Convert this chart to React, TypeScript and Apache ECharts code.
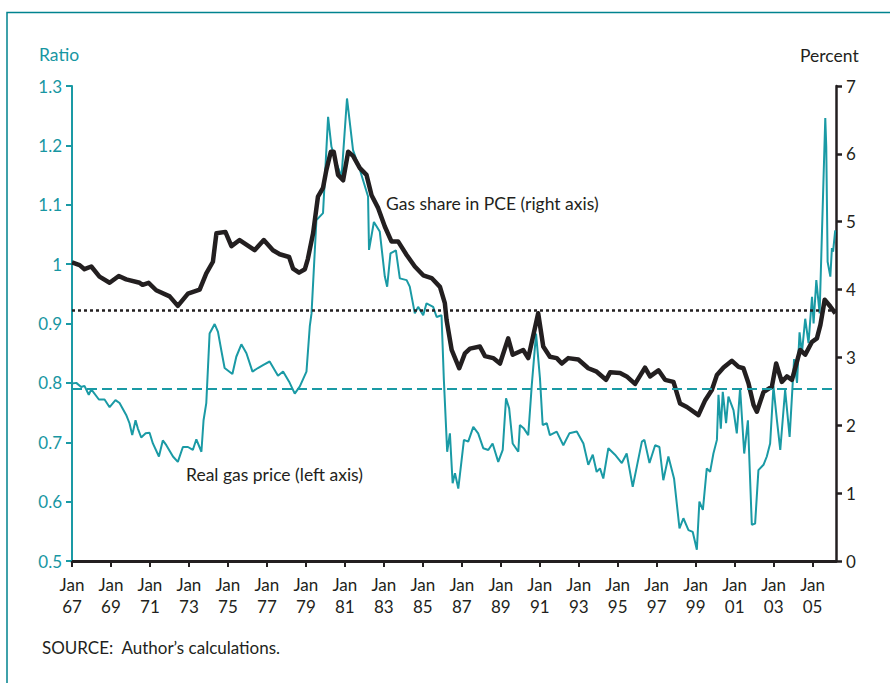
import React, { useEffect, useRef } from "react";
import * as echarts from "echarts";

// Gas share in PCE (right axis, percent)
const shareYears = [
  1967.0, 1967.39, 1967.64, 1967.99, 1968.41, 1968.93, 1969.4, 1969.78, 1970.47, 1970.62,
  1970.93, 1971.32, 1972.01, 1972.43, 1972.95, 1973.55, 1973.89, 1974.23, 1974.41, 1974.87,
  1975.18, 1975.6, 1976.37, 1976.84, 1977.31, 1977.66, 1978.14, 1978.34, 1978.65, 1978.95,
  1979.1, 1979.37, 1979.62, 1979.88, 1980.05, 1980.28, 1980.43, 1980.65, 1980.91, 1981.17,
  1981.42, 1981.77, 1982.11, 1982.37, 1982.71, 1983.05, 1983.39, 1983.73, 1984.17, 1984.59,
  1985.02, 1985.45, 1985.88, 1986.13, 1986.22, 1986.48, 1986.87, 1987.16, 1987.42, 1987.93,
  1988.19, 1988.61, 1988.96, 1989.38, 1989.61, 1990.15, 1990.41, 1990.92, 1991.18, 1991.52,
  1991.87, 1992.13, 1992.46, 1992.98, 1993.49, 1993.92, 1994.4, 1994.61, 1995.12, 1995.46,
  1995.89, 1996.4, 1996.66, 1997.09, 1997.43, 1997.86, 1998.2, 1998.55, 1999.14, 1999.49,
  1999.83, 2000.09, 2000.43, 2000.86, 2001.2, 2001.45, 2001.71, 2001.97, 2002.14, 2002.48,
  2002.91, 2003.13, 2003.42, 2003.68, 2003.94, 2004.36, 2004.62, 2004.97, 2005.22, 2005.4,
  2005.62, 2005.91, 2006.17,
];
const shareValues = [
  4.4, 4.36, 4.3, 4.34, 4.19, 4.1, 4.2, 4.15, 4.1, 4.07,
  4.1, 3.99, 3.9, 3.76, 3.94, 4.0, 4.24, 4.41, 4.83, 4.85,
  4.64, 4.73, 4.58, 4.73, 4.58, 4.52, 4.48, 4.31, 4.25, 4.3,
  4.45, 4.83, 5.37, 5.5, 5.76, 6.03, 6.03, 5.69, 5.61, 6.03,
  5.97, 5.79, 5.69, 5.39, 5.2, 4.93, 4.71, 4.71, 4.51, 4.34,
  4.21, 4.17, 4.04, 3.8, 3.55, 3.11, 2.84, 3.06, 3.13, 3.16,
  3.02, 2.99, 2.91, 3.28, 3.04, 3.11, 2.99, 3.65, 3.16, 3.01,
  2.99, 2.91, 2.99, 2.97, 2.84, 2.79, 2.67, 2.78, 2.77, 2.72,
  2.61, 2.85, 2.72, 2.81, 2.67, 2.64, 2.32, 2.27, 2.15, 2.37,
  2.52, 2.74, 2.85, 2.95, 2.86, 2.84, 2.62, 2.3, 2.2, 2.49,
  2.57, 2.91, 2.64, 2.72, 2.67, 3.11, 3.04, 3.23, 3.28, 3.48,
  3.85, 3.75, 3.65,
];

// Real gas price (left axis, ratio)
const priceYears = [
  1967.0, 1967.22, 1967.47, 1967.64, 1967.86, 1967.99, 1968.38, 1968.67, 1968.93, 1969.23,
  1969.44, 1969.78, 1969.95, 1970.09, 1970.26, 1970.38, 1970.55, 1970.78, 1970.98, 1971.15,
  1971.46, 1971.66, 1971.84, 1972.18, 1972.43, 1972.69, 1972.95, 1973.2, 1973.38, 1973.64,
  1973.75, 1973.89, 1974.06, 1974.32, 1974.49, 1974.66, 1974.83, 1975.23, 1975.43, 1975.69,
  1975.95, 1976.26, 1976.54, 1976.8, 1977.14, 1977.57, 1977.83, 1978.14, 1978.43, 1978.69,
  1979.03, 1979.2, 1979.29, 1979.54, 1979.88, 1980.14, 1980.31, 1980.57, 1980.83, 1981.11,
  1981.42, 1981.77, 1982.19, 1982.24, 1982.49, 1982.79, 1983.05, 1983.17, 1983.34, 1983.62,
  1983.82, 1984.17, 1984.33, 1984.59, 1984.76, 1985.02, 1985.19, 1985.53, 1985.71, 1985.96,
  1986.08, 1986.25, 1986.39, 1986.53, 1986.65, 1986.82, 1986.99, 1987.11, 1987.33, 1987.59,
  1987.84, 1988.1, 1988.36, 1988.58, 1988.87, 1989.1, 1989.27, 1989.43, 1989.61, 1989.9,
  1989.98, 1990.19, 1990.41, 1990.59, 1990.81, 1991.01, 1991.15, 1991.36, 1991.52, 1991.87,
  1992.21, 1992.52, 1992.9, 1993.24, 1993.49, 1993.72, 1993.92, 1994.09, 1994.26, 1994.52,
  1994.86, 1995.21, 1995.46, 1995.77, 1995.98, 1996.24, 1996.37, 1996.63, 1996.92, 1997.14,
  1997.34, 1997.6, 1997.89, 1998.17, 1998.37, 1998.63, 1998.85, 1999.06, 1999.19, 1999.37,
  1999.57, 1999.74, 1999.91, 2000.09, 2000.17, 2000.29, 2000.39, 2000.56, 2000.68, 2000.94,
  2001.11, 2001.28, 2001.49, 2001.68, 2001.88, 2002.05, 2002.22, 2002.48, 2002.65, 2002.82,
  2002.99, 2003.17, 2003.34, 2003.59, 2003.82, 2004.05, 2004.2, 2004.33, 2004.45, 2004.62,
  2004.79, 2004.97, 2005.05, 2005.19, 2005.36, 2005.65, 2005.7, 2005.77, 2005.91, 2005.99,
  2006.05, 2006.16,
];
const priceValues = [
  0.799, 0.8, 0.793, 0.795, 0.78, 0.789, 0.772, 0.772, 0.759, 0.771,
  0.766, 0.746, 0.732, 0.712, 0.737, 0.723, 0.708, 0.715, 0.716, 0.698,
  0.676, 0.703, 0.695, 0.676, 0.667, 0.692, 0.692, 0.687, 0.705, 0.684,
  0.737, 0.766, 0.883, 0.899, 0.886, 0.855, 0.825, 0.815, 0.844, 0.865,
  0.85, 0.819, 0.825, 0.83, 0.836, 0.812, 0.819, 0.802, 0.782, 0.794,
  0.819, 0.895, 0.917, 1.074, 1.086, 1.248, 1.198, 1.17, 1.147, 1.279,
  1.192, 1.159, 1.114, 1.024, 1.071, 1.055, 0.979, 0.962, 1.018, 1.023,
  0.976, 0.973, 0.962, 0.917, 0.928, 0.914, 0.934, 0.928, 0.911, 0.914,
  0.805, 0.684, 0.715, 0.631, 0.648, 0.622, 0.67, 0.704, 0.701, 0.726,
  0.715, 0.69, 0.687, 0.698, 0.667, 0.687, 0.774, 0.757, 0.698, 0.684,
  0.729, 0.723, 0.712, 0.796, 0.883, 0.808, 0.729, 0.732, 0.712, 0.718,
  0.695, 0.715, 0.718, 0.698, 0.662, 0.679, 0.65, 0.656, 0.639, 0.69,
  0.679, 0.665, 0.681, 0.625, 0.659, 0.701, 0.704, 0.665, 0.695, 0.692,
  0.636, 0.676, 0.639, 0.555, 0.572, 0.552, 0.549, 0.519, 0.6, 0.586,
  0.656, 0.65, 0.681, 0.704, 0.78, 0.723, 0.785, 0.732, 0.777, 0.754,
  0.715, 0.791, 0.681, 0.737, 0.561, 0.563, 0.653, 0.662, 0.676, 0.698,
  0.794, 0.737, 0.687, 0.788, 0.709, 0.84, 0.8, 0.885, 0.85, 0.908,
  0.867, 0.945, 0.9, 0.973, 0.917, 1.246, 1.198, 1.004, 0.979, 1.027,
  1.021, 1.057,
];

// Reference levels
const priceBenchmark = 0.79; // left axis
const shareBenchmark = 3.7; // right axis

// Axis ticks
const xTickYears = [
  1967, 1969, 1971, 1973, 1975, 1977, 1979, 1981, 1983, 1985,
  1987, 1989, 1991, 1993, 1995, 1997, 1999, 2001, 2003, 2005,
];
const xMin = 1967;
const xMax = 2006.2;

const TEAL = "#1a9aa5";
const TEAL_TEXT = "#1796a2";
const FRAME = "#00838f";
const DARK = "#231f20";
const FONT = "Lato";
const TICK_SIZE = 17;
const NOTE_SIZE = 17.5;

export default function App() {
  const ref = useRef<HTMLDivElement>(null);

  useEffect(() => {
    if (!ref.current) return;
    const chart = echarts.init(ref.current, undefined, { renderer: "svg" });
    const priceData = priceYears.map((y, i) => [y, priceValues[i]]);
    const shareData = shareYears.map((y, i) => [y, shareValues[i]]);

    chart.setOption({
      animation: false,
      backgroundColor: "#ffffff",
      grid: { left: 72, right: 54, top: 86, bottom: 122, containLabel: false },
      xAxis: {
        type: "value",
        min: xMin,
        max: xMax,
        splitLine: { show: false },
        axisLine: { show: true, onZero: false, lineStyle: { color: DARK, width: 3 } },
        axisTick: {
          show: true,
          customValues: xTickYears,
          length: 6,
          lineStyle: { color: DARK, width: 2 },
        },
        axisLabel: {
          customValues: xTickYears,
          formatter: (v: number) => "Jan\n" + String(Math.round(v)).slice(2),
          color: DARK,
          fontFamily: FONT,
          fontSize: TICK_SIZE,
          lineHeight: 22,
          margin: 12,
        },
      },
      yAxis: [
        {
          type: "value",
          position: "left",
          min: 0.5,
          max: 1.3,
          interval: 0.1,
          splitLine: { show: false },
          axisLine: { show: true, lineStyle: { color: TEAL, width: 2 } },
          axisTick: { show: true, length: 6, lineStyle: { color: TEAL, width: 2 } },
          axisLabel: {
            color: TEAL_TEXT,
            fontFamily: FONT,
            fontSize: TICK_SIZE,
            margin: 10,
            formatter: (v: number) => String(Math.round(v * 10) / 10),
          },
        },
        {
          type: "value",
          position: "right",
          min: 0,
          max: 7,
          interval: 1,
          splitLine: { show: false },
          axisLine: { show: true, lineStyle: { color: DARK, width: 2.5 } },
          axisTick: { show: true, length: 6, lineStyle: { color: DARK, width: 2.5 } },
          axisLabel: { color: DARK, fontFamily: FONT, fontSize: TICK_SIZE, margin: 10 },
        },
      ],
      series: [
        {
          name: "Real gas price (left axis)",
          type: "line",
          yAxisIndex: 0,
          data: priceData,
          showSymbol: false,
          symbol: "none",
          lineStyle: { color: TEAL, width: 2 },
          z: 2,
          markLine: {
            silent: true,
            symbol: ["none", "none"],
            label: { show: false },
            lineStyle: { color: TEAL, width: 2, type: [10, 5] },
            data: [{ yAxis: priceBenchmark }],
          },
        },
        {
          name: "Gas share in PCE (right axis)",
          type: "line",
          yAxisIndex: 1,
          data: shareData,
          showSymbol: false,
          symbol: "none",
          lineStyle: { color: DARK, width: 4.5, join: "round" },
          z: 3,
          markLine: {
            silent: true,
            symbol: ["none", "none"],
            label: { show: false },
            lineStyle: { color: DARK, width: 2.5, type: [3, 3] },
            data: [{ yAxis: shareBenchmark }],
          },
        },
      ],
      graphic: [
        {
          type: "rect",
          shape: { x: 7, y: 12.5, width: 900, height: 700 },
          style: { fill: "none", stroke: FRAME, lineWidth: 1.5 },
          silent: true,
        },
        {
          type: "text",
          x: 39,
          y: 54,
          style: { text: "Ratio", fill: TEAL_TEXT, fontFamily: FONT, fontSize: NOTE_SIZE, verticalAlign: "middle" },
        },
        {
          type: "text",
          x: 800,
          y: 55,
          style: { text: "Percent", fill: DARK, fontFamily: FONT, fontSize: NOTE_SIZE, verticalAlign: "middle" },
        },
        {
          type: "text",
          x: 386,
          y: 203,
          style: { text: "Gas share in PCE (right axis)", fill: DARK, fontFamily: FONT, fontSize: NOTE_SIZE, verticalAlign: "middle" },
        },
        {
          type: "text",
          x: 186,
          y: 474,
          style: { text: "Real gas price (left axis)", fill: DARK, fontFamily: FONT, fontSize: NOTE_SIZE, verticalAlign: "middle" },
        },
        {
          type: "text",
          x: 42,
          y: 647,
          style: { text: "SOURCE:  Author\u2019s calculations.", fill: DARK, fontFamily: FONT, fontSize: TICK_SIZE, verticalAlign: "middle" },
        },
      ],
    });
    return () => chart.dispose();
  }, []);

  return (
    <div
      ref={ref}
      style={{ position: "fixed", left: 0, top: 0, width: 890, height: 683, background: "#fff" }}
    />
  );
}
